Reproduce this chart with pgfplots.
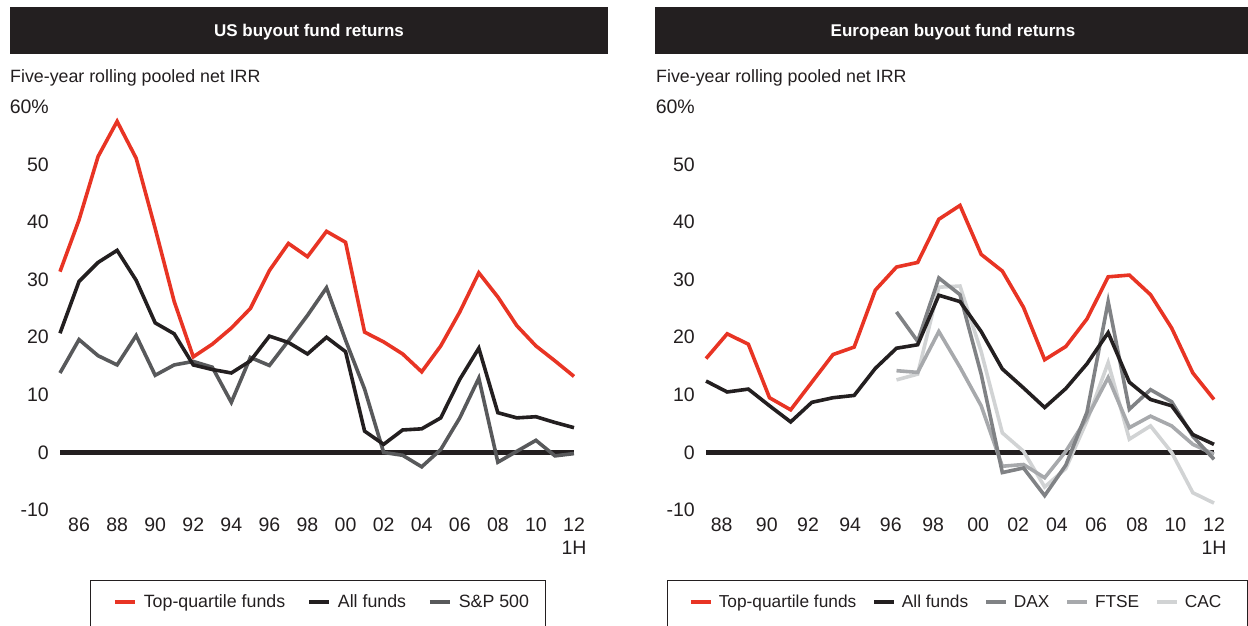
\documentclass[border=0pt]{standalone}
\usepackage{pgfplots}
\pgfplotsset{compat=1.18}
\usepackage{fontspec}
\setmainfont{Liberation Sans}
\definecolor{bred}{RGB}{232,52,36}
\definecolor{bblack}{RGB}{35,31,32}
\definecolor{bsp}{RGB}{88,89,91}
\definecolor{bdax}{RGB}{128,130,133}
\definecolor{bftse}{RGB}{167,169,172}
\definecolor{bcac}{RGB}{209,211,212}

\pgfplotsset{
  bain/.style={
    scale only axis, height=403pt,
    ymin=-10, ymax=60,
    axis line style={draw=none},
    major tick length=0pt,
    ytick={-10,0,10,20,30,40,50,60},
    yticklabels={-10,0,10,20,30,40,50,60\%},
    yticklabel style={anchor=east, inner sep=0pt, xshift=-11pt, font=\fontsize{19.5}{23}\selectfont, text=bblack},
    xticklabel style={anchor=north, inner sep=0pt, yshift=-8pt, align=center, font=\fontsize{19.5}{23}\selectfont, text=bblack},
    clip=false,
    legend columns=-1,
    legend style={draw=none, fill=none, inner sep=0pt, font=\fontsize{17.8}{20}\selectfont, text=bblack,
      cells={anchor=center}, nodes={inner sep=0pt},
      /tikz/every odd column/.append style={column sep=7pt},
      /tikz/every even column/.append style={column sep=22pt}},
    legend image code/.code={\draw[#1, line width=3.6pt] (0pt,0pt) -- (20pt,0pt);},
    every axis plot/.append style={line width=3.6pt, mark=none},
  }
}

\begin{document}
\begin{tikzpicture}
\path[use as bounding box] (0pt,0pt) rectangle (1248pt,626pt);

% title bars
\fill[bblack] (10pt,572pt) rectangle (608pt,619pt);
\node[text=white, font=\bfseries\fontsize{17}{20}\selectfont] at (309pt,593.5pt) {US buyout fund returns};
\fill[bblack] (655pt,572pt) rectangle (1248pt,619pt);
\node[text=white, font=\bfseries\fontsize{17}{20}\selectfont] at (953pt,593.5pt) {European buyout fund returns};

% subtitles
\node[anchor=base west, inner sep=0pt, text=bblack, font=\fontsize{17.8}{20}\selectfont] at (10pt,543pt) {Five-year rolling pooled net IRR};
\node[anchor=base west, inner sep=0pt, text=bblack, font=\fontsize{17.8}{20}\selectfont] at (656pt,543pt) {Five-year rolling pooled net IRR};

% legend frames
\draw[bblack, line width=0.9pt] (90pt,-5pt) -- (90pt,46pt) -- (545pt,46pt) -- (545pt,-5pt);
\draw[bblack, line width=0.9pt] (667pt,-5pt) -- (667pt,46pt) -- (1247pt,46pt) -- (1247pt,-5pt);

% ---------------- US ----------------
\begin{axis}[bain, at={(60pt,116pt)}, anchor=south west, width=514pt,
  xmin=1985, xmax=2012,
  xtick={1986,1988,1990,1992,1994,1996,1998,2000,2002,2004,2006,2008,2010,2012},
  xticklabels={86,88,90,92,94,96,98,00,02,04,06,08,10,{12\\1H}},
  legend style={at={(0.1031,-0.2283)}, anchor=west}]
\addplot[bblack, line width=5pt, forget plot] coordinates {(1985,0) (2012,0)};
\addplot[bsp, forget plot] table {
x y
1985 13.8
1986 19.6
1987 16.8
1988 15.2
1989 20.3
1990 13.4
1991 15.2
1992 15.8
1993 14.8
1994 8.7
1995 16.5
1996 15.1
1997 19.4
1998 23.8
1999 28.6
2000 19.5
2001 11.0
2002 0.0
2003 -0.5
2004 -2.5
2005 0.5
2006 6.0
2007 12.9
2008 -1.7
2009 0.2
2010 2.1
2011 -0.6
2012 -0.2
};
\addplot[bblack, forget plot] table {
x y
1985 20.7
1986 29.7
1987 33.0
1988 35.1
1989 29.9
1990 22.5
1991 20.6
1992 15.2
1993 14.4
1994 13.8
1995 15.9
1996 20.2
1997 19.1
1998 17.1
1999 20.0
2000 17.5
2001 3.7
2002 1.4
2003 3.9
2004 4.1
2005 6.0
2006 12.7
2007 18.1
2008 6.9
2009 6.0
2010 6.2
2011 5.2
2012 4.3
};
\addplot[bred, forget plot] table {
x y
1985 31.4
1986 40.4
1987 51.4
1988 57.5
1989 51.1
1990 38.9
1991 26.2
1992 16.6
1993 18.8
1994 21.6
1995 25.0
1996 31.6
1997 36.3
1998 34.0
1999 38.4
2000 36.5
2001 20.9
2002 19.2
2003 17.1
2004 14.0
2005 18.5
2006 24.4
2007 31.2
2008 27.0
2009 22.0
2010 18.5
2011 15.9
2012 13.2
};
\addlegendimage{bred}\addlegendentry{Top-quartile funds}
\addlegendimage{bblack}\addlegendentry{All funds}
\addlegendimage{bsp}\addlegendentry{S\&P 500}
\end{axis}

% ---------------- Europe ----------------
\begin{axis}[bain, at={(706pt,116pt)}, anchor=south west, width=508pt,
  xmin=1988, xmax=2012,
  xtick={1988.74,1990.87,1992.82,1994.81,1996.73,1998.73,2000.86,2002.75,2004.58,2006.43,2008.37,2010.18,2012},
  xticklabels={88,90,92,94,96,98,00,02,04,06,08,10,{12\\1H}},
  legend style={at={(-0.0335,-0.2283)}, anchor=west, font=\fontsize{17.3}{20}\selectfont,
    /tikz/every odd column/.append style={column sep=6pt},
    /tikz/every even column/.append style={column sep=16pt}}]
\addplot[bblack, line width=5pt, forget plot] coordinates {(1988,0) (2012,0)};
\addplot[bcac, forget plot] table {
x y
1997 12.6
1998 13.6
1999 28.7
2000 28.9
2001 17.5
2002 3.4
2003 0.2
2004 -6.0
2005 -2.8
2006 5.5
2007 15.6
2008 2.3
2009 4.6
2010 0.0
2011 -7.0
2012 -8.8
};
\addplot[bftse, forget plot] table {
x y
1997 14.2
1998 13.9
1999 21.0
2000 14.8
2001 8.1
2002 -2.4
2003 -2.1
2004 -4.4
2005 0.2
2006 6.0
2007 13.0
2008 4.3
2009 6.3
2010 4.6
2011 1.4
2012 -0.3
};
\addplot[bdax, forget plot] table {
x y
1997 24.4
1998 19.3
1999 30.3
2000 27.4
2001 13.6
2002 -3.5
2003 -2.7
2004 -7.5
2005 -2.2
2006 7.0
2007 26.2
2008 7.5
2009 10.9
2010 8.8
2011 2.8
2012 -1.2
};
\addplot[bblack, forget plot] table {
x y
1988 12.4
1989 10.5
1990 11.0
1991 8.1
1992 5.3
1993 8.7
1994 9.5
1995 9.9
1996 14.6
1997 18.1
1998 18.7
1999 27.3
2000 26.2
2001 21.0
2002 14.5
2003 11.2
2004 7.8
2005 11.1
2006 15.4
2007 20.8
2008 12.2
2009 9.2
2010 8.1
2011 3.1
2012 1.4
};
\addplot[bred, forget plot] table {
x y
1988 16.3
1989 20.6
1990 18.8
1991 9.5
1992 7.4
1993 12.2
1994 17.0
1995 18.3
1996 28.2
1997 32.2
1998 33.0
1999 40.5
2000 42.9
2001 34.4
2002 31.5
2003 25.2
2004 16.1
2005 18.4
2006 23.2
2007 30.5
2008 30.8
2009 27.4
2010 21.6
2011 13.8
2012 9.2
};
\addlegendimage{bred}\addlegendentry{Top-quartile funds}
\addlegendimage{bblack}\addlegendentry{All funds}
\addlegendimage{bdax}\addlegendentry{DAX}
\addlegendimage{bftse}\addlegendentry{FTSE}
\addlegendimage{bcac}\addlegendentry{CAC}
\end{axis}
\end{tikzpicture}
\end{document}
